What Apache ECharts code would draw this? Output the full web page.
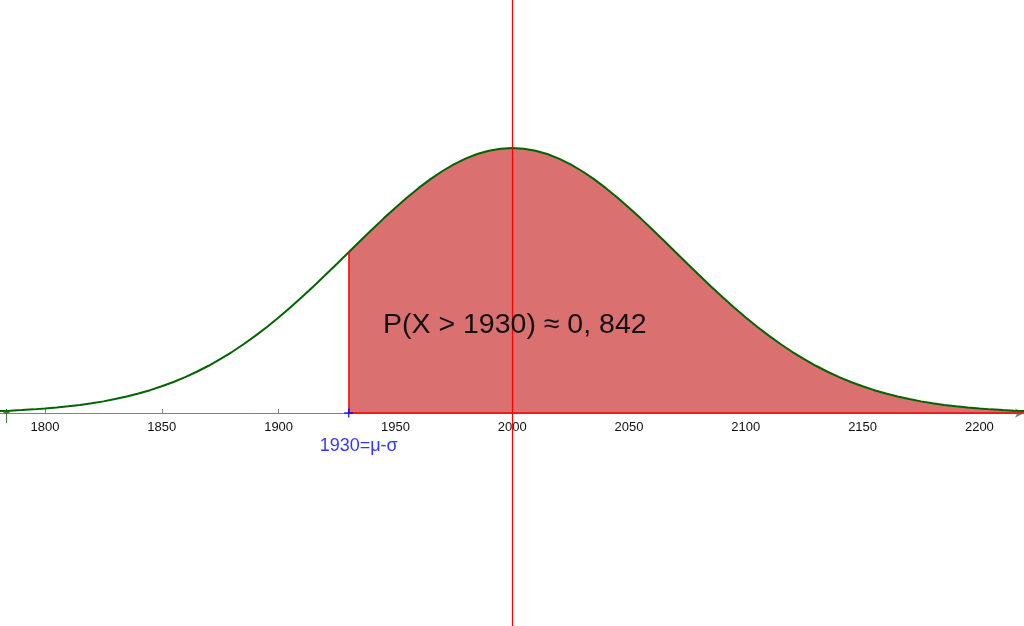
<!DOCTYPE html>
<html>
<head>
<meta charset="utf-8">
<script src="https://cdn.jsdelivr.net/npm/echarts@6/dist/echarts.min.js"></script>
<style>html,body{margin:0;padding:0;background:#fff;}#c{width:1024px;height:626px;}</style>
</head>
<body>
<div id="c"></div>
<script>
// x positions of the sampled curve (step 5)
const xs = [1780,1785,1790,1795,1800,1805,1810,1815,1820,1825,1830,1835,1840,1845,1850,1855,1860,1865,1870,1875,1880,1885,1890,1895,
            1900,1905,1910,1915,1920,1925,1930,1935,1940,1945,1950,1955,1960,1965,1970,1975,1980,1985,1990,1995,2000,
            2005,2010,2015,2020,2025,2030,2035,2040,2045,2050,2055,2060,2065,2070,2075,2080,2085,2090,2095,2100,
            2105,2110,2115,2120,2125,2130,2135,2140,2145,2150,2155,2160,2165,2170,2175,2180,2185,2190,2195,2200,2205,2210,2215,2220];
// density values (x1000)
const ys = [0.041,0.051,0.063,0.078,0.096,0.118,0.143,0.173,0.209,0.250,0.299,0.354,0.418,0.491,0.574,0.667,0.771,0.887,1.016,1.157,
            1.311,1.478,1.658,1.850,2.054,2.269,2.494,2.727,2.966,3.210,3.457,3.703,3.947,4.186,4.416,4.635,4.841,5.029,5.199,5.347,
            5.471,5.570,5.641,5.684,5.699,
            5.684,5.641,5.570,5.471,5.347,5.199,5.029,4.841,4.635,4.416,4.186,3.947,3.703,3.457,3.210,2.966,2.727,2.494,2.269,2.054,
            1.850,1.658,1.478,1.311,1.157,1.016,0.887,0.771,0.667,0.574,0.491,0.418,0.354,0.299,0.250,0.209,0.173,0.143,0.118,0.096,
            0.078,0.063,0.051,0.041];
const tickValues = [1800,1850,1900,1950,2000,2050,2100,2150,2200];
const mu = 2000;
const cut = 1930;
const cutLabel = '1930=μ-σ';
const probText = 'P(X > 1930) ≈ 0, 842';
const xMin = 1780.73, xMax = 2219.1;
const yMin = 0, yMax = 8.882;

const curve = xs.map((x, i) => [x, ys[i]]);
const fill = curve.filter(p => p[0] >= cut);
const cutY = ys[xs.indexOf(cut)];

const chart = echarts.init(document.getElementById('c'), null, {renderer: 'canvas'});
chart.setOption({
  animation: false,
  backgroundColor: '#ffffff',
  grid: [
    {left: 0, right: 0, top: 0, bottom: 213, outerBoundsMode: 'none', containLabel: false},
    {left: 0, right: 0, top: 0, bottom: 0, outerBoundsMode: 'none', containLabel: false}
  ],
  title: {
    text: probText,
    left: 383, top: 311, padding: 0,
    textStyle: {fontFamily: 'Liberation Sans', fontSize: 28.5, fontWeight: 'normal', color: '#111'}
  },
  xAxis: [{
    type: 'value', min: xMin, max: xMax, gridIndex: 0,
    axisLine: {onZero: false, lineStyle: {color: '#808080', width: 1}, symbol: ['none', 'arrow'], symbolSize: [7, 9]},
    axisTick: {inside: true, length: 4, lineStyle: {color: '#808080'}, customValues: tickValues},
    axisLabel: {customValues: tickValues, margin: 8, fontFamily: 'Liberation Sans', fontSize: 13, color: '#111',
                formatter: v => String(v)},
    splitLine: {show: false}
  }, {
    type: 'value', min: xMin, max: xMax, gridIndex: 1, show: false, splitLine: {show: false}
  }],
  yAxis: [{
    type: 'value', min: yMin, max: yMax, show: false, gridIndex: 0, splitLine: {show: false}
  }, {
    type: 'value', min: 0, max: 1, show: false, gridIndex: 1, splitLine: {show: false}
  }],
  series: [
    {
      type: 'line', data: fill, smooth: false, symbol: 'none',
      lineStyle: {width: 0},
      areaStyle: {color: '#db7070', opacity: 1, origin: 0},
      z: 2,
      markLine: {
        silent: true, symbol: 'none', label: {show: false},
        lineStyle: {color: '#ff0000', width: 1.5, type: 'solid'},
        data: [
          [{coord: [cut, 0]}, {coord: [cut, cutY]}],
          [{coord: [cut, 0]}, {coord: [xMax, 0]}]
        ]
      }
    },
    {
      type: 'line', data: curve, smooth: false, symbol: 'none',
      lineStyle: {color: '#006400', width: 2},
      z: 3
    },
    {
      type: 'line', data: [], xAxisIndex: 1, yAxisIndex: 1, z: 4,
      markLine: {
        silent: true, symbol: 'none', label: {show: false},
        lineStyle: {color: '#ff0000', width: 1.2, type: 'solid'},
        data: [{xAxis: mu}]
      }
    },
    {
      type: 'scatter', data: [[cut, 0]], symbol: 'path://M5 0 L5 10 M0 5 L10 5', symbolSize: 9,
      itemStyle: {color: 'none', borderColor: '#0000ff', borderWidth: 1.5},
      label: {show: true, formatter: cutLabel, position: 'bottom', offset: [10, 12],
              fontFamily: 'Liberation Sans', fontSize: 18, color: '#0000ff'},
      z: 5
    },
    {
      type: 'scatter', data: [[xs[0] + 3.5, 0]], symbol: 'path://M5 0 L5 14 M3 3 L7 3', symbolSize: [6, 14],
      symbolOffset: [0, 3],
      itemStyle: {color: 'none', borderColor: '#006400', borderWidth: 1.5},
      z: 5
    }
  ]
});
</script>
</body>
</html>
